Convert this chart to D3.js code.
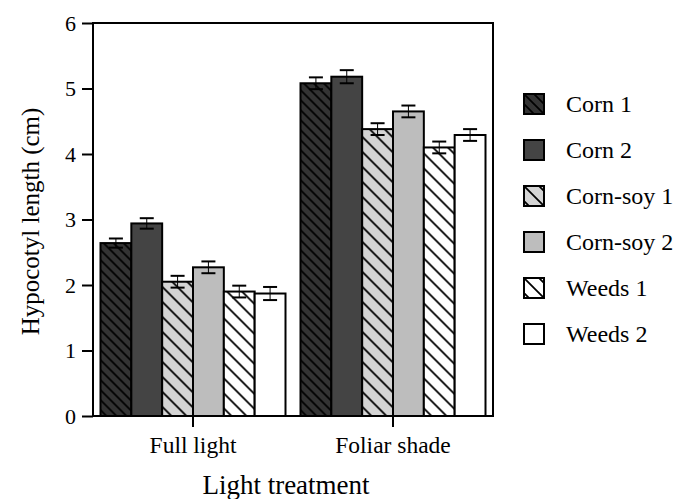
<!DOCTYPE html>
<html>
<head>
<meta charset="utf-8">
<script src="https://cdn.jsdelivr.net/npm/d3@7"></script>
<style>
  body { margin: 0; background: #fff; }
  svg text { font-family: "Liberation Serif", "Times New Roman", serif; fill: #000; }
</style>
</head>
<body>
<svg id="chart" width="674" height="499"></svg>
<script>
// values
var groups = ["Full light", "Foliar shade"];
var series = ["Corn 1", "Corn 2", "Corn-soy 1", "Corn-soy 2", "Weeds 1", "Weeds 2"];
var fullLight = [2.64, 2.94, 2.05, 2.27, 1.90, 1.87];
var foliarShade = [5.08, 5.18, 4.38, 4.65, 4.10, 4.29];
var fullLightErr = [0.07, 0.08, 0.09, 0.09, 0.09, 0.10];
var foliarShadeErr = [0.09, 0.10, 0.09, 0.09, 0.09, 0.09];
var yTicks = [0, 1, 2, 3, 4, 5, 6];

var means = [fullLight, foliarShade];
var errs = [fullLightErr, foliarShadeErr];

var serif = "'Liberation Serif', 'Times New Roman', serif";
var svg = d3.select("#chart");
// plot box (note: "top" is taken by window.top, so prefix them)
var plotL = 93, plotR = 493, plotT = 23, plotB = 416;

// fills: base grey + optional hatch (\ direction)
var fills = [
    { base: "#333333", hatch: 10 },
    { base: "#444444", hatch: 0 },
    { base: "#d4d4d4", hatch: 15 },
    { base: "#bdbdbd", hatch: 0 },
    { base: "#ffffff", hatch: 15 },
    { base: "#ffffff", hatch: 0 }
];

var defs = svg.append("defs");
fills.forEach(function (f, i) {
    if (!f.hatch) return;
    var s = f.hatch;
    var p = defs.append("pattern")
        .attr("id", "pat" + i)
        .attr("patternUnits", "userSpaceOnUse")
        .attr("width", s).attr("height", s);
    p.append("rect").attr("width", s).attr("height", s).attr("fill", f.base);
    p.append("path")
        .attr("d", "M0,0L" + s + "," + s + "M" + (-s) + ",0L" + s + "," + (2 * s) + "M0," + (-s) + "L" + (2 * s) + "," + s)
        .attr("stroke", "#000").attr("stroke-width", 1.8);
});
function fillOf(i) {
    return fills[i].hatch ? "url(#pat" + i + ")" : fills[i].base;
}

var x0 = d3.scaleBand().domain(groups).range([plotL, plotR]).paddingInner(0.075).paddingOuter(0.0375);
var x1 = d3.scaleBand().domain(series).range([0, x0.bandwidth()]);
var y = d3.scaleLinear().domain([0, 6]).range([plotB, plotT]);

// bars
var g = svg.selectAll("g.grp").data(groups).enter().append("g")
    .attr("class", "grp")
    .attr("transform", function (d) { return "translate(" + x0(d) + ",0)"; });

g.each(function (grp, gi) {
    var sel = d3.select(this);
    sel.selectAll("rect").data(series).enter().append("rect")
        .attr("x", function (d) { return x1(d); })
        .attr("y", function (d, i) { return y(means[gi][i]); })
        .attr("width", x1.bandwidth())
        .attr("height", function (d, i) { return y(0) - y(means[gi][i]); })
        .attr("fill", function (d, i) { return fillOf(i); })
        .attr("stroke", "#000").attr("stroke-width", 2);

    // error bars
    var eb = sel.selectAll("g.err").data(series).enter().append("g").attr("class", "err");
    eb.each(function (d, i) {
        var cx = x1(d) + x1.bandwidth() / 2;
        var hi = y(means[gi][i] + errs[gi][i]), lo = y(means[gi][i] - errs[gi][i]);
        var e = d3.select(this);
        e.append("line").attr("x1", cx).attr("x2", cx).attr("y1", hi).attr("y2", lo)
            .attr("stroke", "#000").attr("stroke-width", 1);
        [hi, lo].forEach(function (yy) {
            e.append("line").attr("x1", cx - 7).attr("x2", cx + 7).attr("y1", yy).attr("y2", yy)
                .attr("stroke", "#000").attr("stroke-width", 2);
        });
    });
});

// frame
svg.append("rect")
    .attr("x", plotL).attr("y", plotT)
    .attr("width", plotR - plotL).attr("height", plotB - plotT)
    .attr("fill", "none").attr("stroke", "#000").attr("stroke-width", 2);

// axes
var yAxis = svg.append("g")
    .attr("transform", "translate(" + plotL + ",0)")
    .attr("font-family", serif)
    .call(d3.axisLeft(y).tickValues(yTicks).tickFormat(d3.format("d")).tickSize(11).tickPadding(6));
yAxis.attr("font-family", serif);
yAxis.select(".domain").remove();
yAxis.selectAll("line").attr("stroke-width", 2);
yAxis.selectAll("text").style("font-size", "22px");

var xAxis = svg.append("g")
    .attr("transform", "translate(0," + plotB + ")")
    .call(d3.axisBottom(x0).tickSize(11).tickPadding(9));
xAxis.attr("font-family", serif);
xAxis.select(".domain").remove();
xAxis.selectAll("line").attr("stroke-width", 2);
xAxis.selectAll("text").style("font-size", "23.5px");

// axis titles
svg.append("text")
    .attr("transform", "translate(39," + ((plotT + plotB) / 2 + 2) + ") rotate(-90)")
    .attr("text-anchor", "middle")
    .attr("font-family", serif)
    .style("font-size", "25px")
    .text("Hypocotyl length (cm)");

svg.append("text")
    .attr("x", (plotL + plotR) / 2 - 7).attr("y", 494)
    .attr("text-anchor", "middle")
    .attr("font-family", serif)
    .style("font-size", "27px")
    .text("Light treatment");

// legend
var leg = svg.selectAll("g.leg").data(series).enter().append("g")
    .attr("class", "leg")
    .attr("transform", function (d, i) { return "translate(524," + (94 + i * 46) + ")"; });
leg.append("rect")
    .attr("width", 20).attr("height", 20)
    .attr("fill", function (d, i) { return fillOf(i); })
    .attr("stroke", "#000").attr("stroke-width", 2);
leg.append("text")
    .attr("x", 42).attr("y", 18)
    .attr("font-family", serif)
    .style("font-size", "24px")
    .text(function (d) { return d; });
</script>
</body>
</html>
